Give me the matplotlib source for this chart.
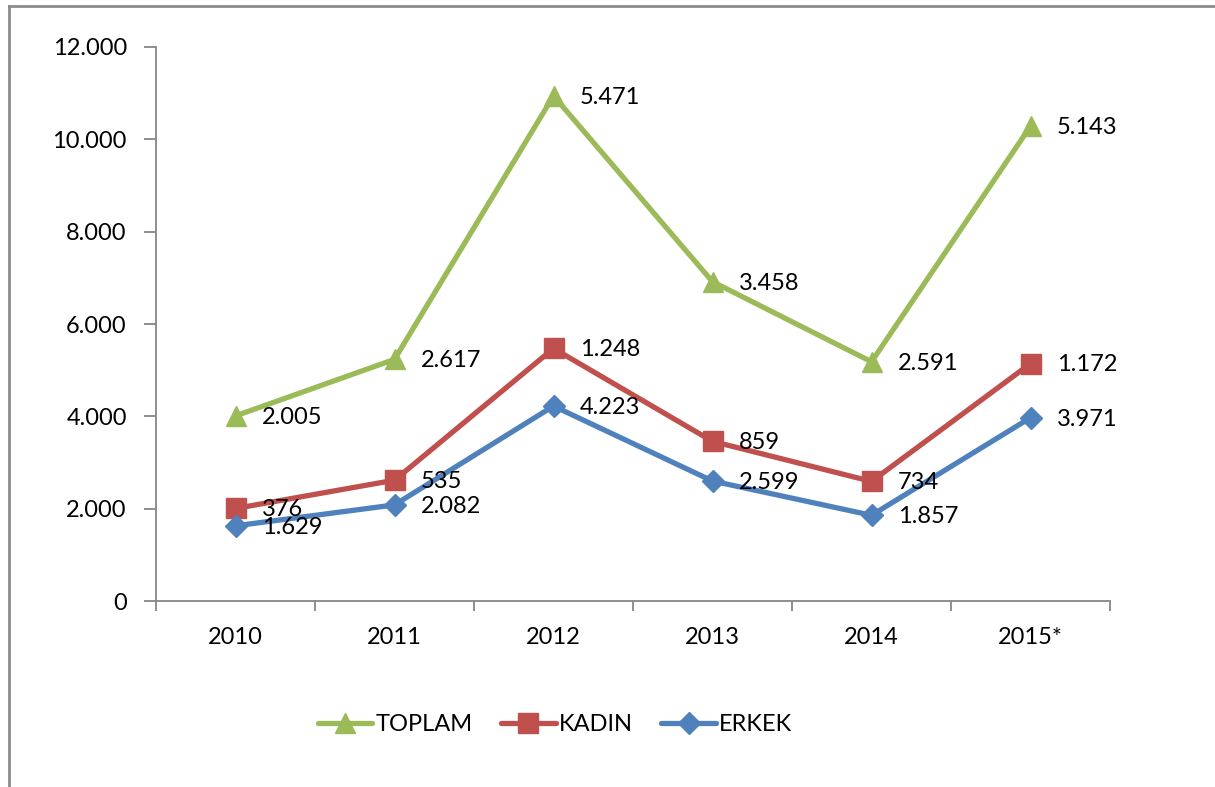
import numpy as np
import matplotlib
matplotlib.use("Agg")
import matplotlib.pyplot as plt
from matplotlib.lines import Line2D
from matplotlib.ticker import FuncFormatter, FixedLocator

plt.rcParams['font.family'] = ['Lato', 'DejaVu Sans']

years = ["2010", "2011", "2012", "2013", "2014", "2015*"]
erkek = [1629, 2082, 4223, 2599, 1857, 3971]
kadin = [376, 535, 1248, 859, 734, 1172]
toplam = [2005, 2617, 5471, 3458, 2591, 5143]

# stacked line chart: each series sits on top of the previous ones
erkek_y = np.array(erkek)
kadin_y = erkek_y + np.array(kadin)
toplam_y = kadin_y + np.array(toplam)

green = "#9BBB59"
red = "#C0504D"
blue = "#4F81BD"
grey = "#868686"
fs = 17


def tr_fmt(v, pos=None):
    return f"{int(round(v)):,}".replace(",", ".")


fig = plt.figure(figsize=(12.15, 7.87), dpi=100)
ax = fig.add_axes([0.1284, 0.2363, 0.7852, 0.704])

x = np.arange(len(years))
series = [
    ("TOPLAM", toplam_y, toplam, green, "^", 15),
    ("KADIN", kadin_y, kadin, red, "s", 14),
    ("ERKEK", erkek_y, erkek, blue, "D", 11),
]
for name, ys, labels, col, mk, ms in series:
    ax.plot(x, ys, color=col, lw=3.8, marker=mk, ms=ms, label=name,
            solid_capstyle="round", zorder=3)
    for xi, yi, lab in zip(x, ys, labels):
        ax.annotate(tr_fmt(lab), (xi, yi), xytext=(19, -1),
                    textcoords="offset points", ha="left", va="center",
                    fontsize=fs, color="black", zorder=4)

ax.set_xlim(-0.5, len(years) - 0.5)
ax.set_ylim(0, 12000)
ax.set_yticks(np.arange(0, 12001, 2000))
ax.yaxis.set_major_formatter(FuncFormatter(tr_fmt))

ax.xaxis.set_major_locator(FixedLocator(np.arange(-0.5, len(years), 1.0)))
ax.xaxis.set_major_formatter(FuncFormatter(lambda v, p: ""))
ax.xaxis.set_minor_locator(FixedLocator(x))
ax.set_xticklabels(years, minor=True)

for s in ["top", "right"]:
    ax.spines[s].set_visible(False)
for s in ["left", "bottom"]:
    ax.spines[s].set_color(grey)
    ax.spines[s].set_linewidth(1.3)

ax.tick_params(axis="y", direction="out", length=9, width=1.3, color=grey,
               labelsize=fs, pad=12)
ax.tick_params(axis="x", which="major", direction="out", length=7, width=1.3,
               color=grey)
ax.tick_params(axis="x", which="minor", length=0, labelsize=fs, pad=19)

# outer chart border (only top and left visible in the crop)
fig.add_artist(Line2D([9 / 1215, 1.0], [1 - 6 / 787, 1 - 6 / 787],
                      color="#8c8c8c", lw=2, transform=fig.transFigure))
fig.add_artist(Line2D([9 / 1215, 9 / 1215], [0, 1 - 6 / 787],
                      color="#8c8c8c", lw=2, transform=fig.transFigure))

fig.legend(loc="center", bbox_to_anchor=(0.457, 0.079), ncol=3, frameon=False,
           fontsize=fs, handlelength=2.3, handletextpad=0.15,
           columnspacing=1.2)

fig.savefig("out.png", dpi=100, facecolor="white")
